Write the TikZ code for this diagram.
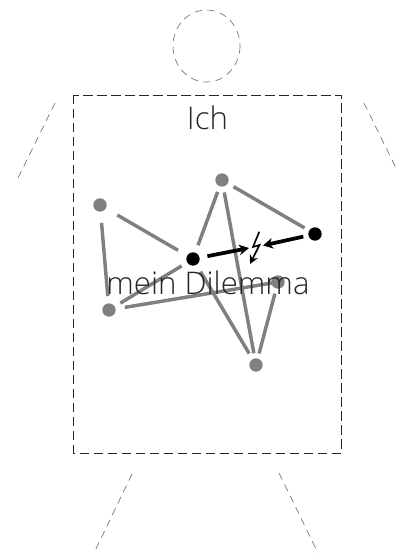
\documentclass[tikz,border=0pt]{standalone}
\usepackage{fontspec}
\usetikzlibrary{arrows.meta}
\setmainfont{Open Sans}[UprightFont=* Light]
\tikzset{
  px/.style={x=0.75pt,y=-0.75pt},
  dot/.style={circle,fill=#1,draw=none,minimum size=10pt,inner sep=0pt},
  link/.style={draw=black!50,line width=2.6pt},
  push/.style={draw=black,line width=2.8pt},
  limb/.style={draw=black!55,line width=0.5pt,dash pattern=on 5.5pt off 4pt},
  frame/.style={draw=black!85,line width=0.75pt,dash pattern=on 7pt off 3.5pt},
  lab/.style={text=black!85,inner sep=0pt,font=\fontsize{23.4}{26}\selectfont},
}
\begin{document}
\begin{tikzpicture}[px]
\useasboundingbox (0,0) rectangle (399,553);
\draw[limb] (206.5,46) ellipse [x radius=33.5,y radius=36];
\draw[frame] (73.5,95) rectangle (341,453);
\coordinate (al0) at (55,103); \coordinate (al1) at (16,182);
\coordinate (ar0) at (364,103); \coordinate (ar1) at (397,170);
\coordinate (ll0) at (132,474); \coordinate (ll1) at (94,553);
\coordinate (lr0) at (279,473); \coordinate (lr1) at (318,553);
\draw[limb] (al0) -- (al1);
\draw[limb] (ar0) -- (ar1);
\draw[limb] (ll0) -- (ll1);
\draw[limb] (lr0) -- (lr1);
\node[dot=black!50] (top) at (222,180) {};
\node[dot=black!50] (left) at (100,205) {};
\node[dot=black!50] (low) at (109,310) {};
\node[dot=black!50] (bot) at (256,365) {};
\node[dot=black!50] (hid) at (278,282) {};
\node[dot=black] (mid) at (193,259) {};
\node[dot=black] (right) at (315,234) {};
\coordinate (z0) at (259.3,231.7);
\coordinate (z1) at (253,247);
\coordinate (z2) at (259.5,245);
\coordinate (z3) at (250,264);
\coordinate (e1) at (249,248);
\coordinate (e2) at (263,245.5);
\draw[link,shorten <=15pt,shorten >=13pt] (left.center) -- (mid.center);
\draw[link,shorten <=9.5pt,shorten >=11pt] (top.center) -- (mid.center);
\draw[link,shorten <=10pt,shorten >=9pt] (top.center) -- (right.center);
\draw[link,shorten <=9.5pt,shorten >=9pt] (top.center) -- (bot.center);
\draw[link,shorten <=13.5pt,shorten >=10.5pt] (left.center) -- (low.center);
\draw[link,shorten <=10pt,shorten >=10pt] (mid.center) -- (low.center);
\draw[link,shorten <=12pt,shorten >=4.5pt] (low.center) -- (hid.center);
\draw[link,shorten <=11pt,shorten >=10pt] (mid.center) -- (bot.center);
\draw[link,shorten <=9pt,shorten >=9pt] (hid.center) -- (bot.center);
\draw[push,-{Stealth[length=7.5pt,width=8pt]},shorten <=11pt] (mid.center) -- (e1);
\draw[push,-{Stealth[length=7.5pt,width=8pt]},shorten <=9pt] (right.center) -- (e2);
\draw[black,line width=1.2pt,-{Stealth[length=6.5pt,width=6.5pt]}] (z0) -- (z1) -- (z2) -- (z3);
\node[lab] (ich) at (207.5,118) {Ich};
\node[lab] (dilemma) at (208,283) {mein Dilemma};
\end{tikzpicture}
\end{document}
